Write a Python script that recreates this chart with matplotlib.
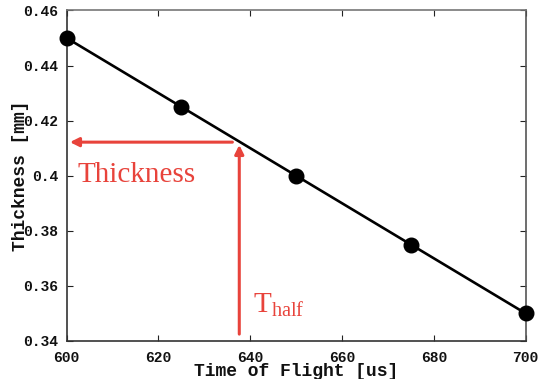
import numpy as np
import matplotlib
matplotlib.use("Agg")
import matplotlib.pyplot as plt
from matplotlib.ticker import FuncFormatter

# data
tof = [600, 625, 650, 675, 700]
thickness = [0.45, 0.425, 0.40, 0.375, 0.35]
x_ticks = [600, 620, 640, 660, 680, 700]
y_ticks = [0.34, 0.36, 0.38, 0.40, 0.42, 0.44, 0.46]
t_half = 637.6

RED = "#e8433b"
MONO = "Liberation Mono"
SERIF = "Liberation Serif"

plt.rcParams["mathtext.fontset"] = "custom"
plt.rcParams["mathtext.rm"] = SERIF

fig = plt.figure(figsize=(5.48, 3.79), dpi=100)
ax = fig.add_axes([0.1217, 0.1003, 0.8376, 0.872])

ax.plot(tof, thickness, color="black", lw=1.9, marker="o", ms=10.5,
        markerfacecolor="black", markeredgecolor="black", clip_on=False, zorder=3)

ax.set_xlim(600, 700)
ax.set_ylim(0.34, 0.46)
ax.set_xticks(x_ticks)
ax.set_yticks(y_ticks)
ax.yaxis.set_major_formatter(FuncFormatter(lambda v, p: f"{v:g}"))
ax.tick_params(direction="in", length=4, width=0.8, top=True, right=True,
               labelsize=10.5, colors="#222222", pad=6)
ax.tick_params(axis="x", pad=7)
for lab in ax.get_xticklabels() + ax.get_yticklabels():
    lab.set_fontfamily(MONO)
    lab.set_fontweight("bold")
    lab.set_color("#111111")

for side, c in [("left", "#333333"), ("bottom", "#333333"), ("top", "#777777"), ("right", "#555555")]:
    ax.spines[side].set_color(c)
    ax.spines[side].set_linewidth(1.2)

ax.set_xlabel("Time of Flight [us]", fontfamily=MONO, fontsize=13, color="#111111", fontweight="bold")
ax.set_ylabel("Thickness [mm]", fontfamily=MONO, fontsize=13, color="#111111", fontweight="bold")
ax.xaxis.set_label_coords(0.5, -0.066)
ax.yaxis.set_label_coords(-0.082, 0.5)

thick_half = float(np.interp(t_half, tof, thickness))

arrow = dict(arrowstyle="-|>", color=RED, lw=2.2, mutation_scale=13, shrinkA=0, shrinkB=0)
ax.annotate("", xy=(600.7, thick_half - 0.0002), xytext=(t_half - 1.5, thick_half - 0.0002),
            arrowprops=arrow, zorder=2)
ax.annotate("", xy=(t_half, thick_half - 0.0012), xytext=(t_half, 0.3425),
            arrowprops=arrow, zorder=2)

ax.text(602.3, 0.3977, "Thickness", fontfamily=SERIF, fontsize=21, color=RED, va="baseline")
ax.text(640.6, 0.3505, r"T$_{\mathregular{half}}$", fontfamily=SERIF, fontsize=21,
        color=RED, va="baseline")

fig.savefig("out.png", dpi=100)
